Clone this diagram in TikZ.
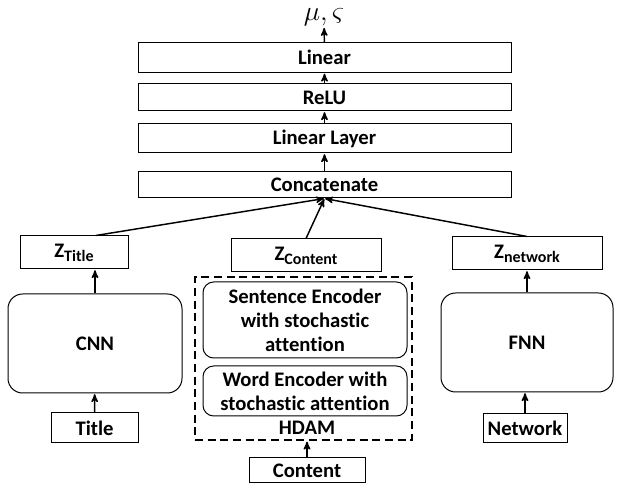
\documentclass[tikz,border=0pt]{standalone}
\usepackage{fontspec}
\setmainfont{Carlito}[Ligatures={NoCommon}]
\usetikzlibrary{arrows, shapes, positioning}
\newcommand{\zsub}[1]{Z\raisebox{-0.4ex}{\fontsize{12}{13}\selectfont #1}}

\begin{document}
\begin{tikzpicture}[x=0.75pt, y=-0.75pt, >=stealth']
 \tikzstyle{box} = [draw, line width=0.75pt, inner sep=0pt, font=\bfseries\fontsize{15.5}{18}\selectfont]
 \tikzstyle{layer} = [box, minimum width=373*0.75pt]
 \tikzstyle{block} = [box, rounded corners=11pt, align=center]
 \tikzstyle{link} = [->, line width=1.1pt, shorten >=0.5pt]
 \useasboundingbox (0,0) rectangle (622,488);

   % output stack
   \node[inner sep=1pt] (out) at (324,17) {\fontsize{20}{21}\selectfont$\mu,\varsigma$};
   \node[layer, minimum height=30*0.75pt] (lin) at (324.5,57.5) {Linear};
   \node[layer, minimum height=27*0.75pt] (relu) at (324.5,97.5) {ReLU};
   \node[layer, minimum height=29*0.75pt] (linlayer) at (324.5,138.5) {Linear Layer};
   \node[layer, minimum height=26*0.75pt] (concat) at (324.5,185) {Concatenate};

   % latent codes
   \node[box, minimum width=108*0.75pt, minimum height=33*0.75pt] (ztitle) at (74,252.5) {\zsub{Title}};
   \node[box, minimum width=150*0.75pt, minimum height=33*0.75pt] (zcontent) at (306,255.5) {\zsub{Content}};
   \node[box, minimum width=150*0.75pt, minimum height=33*0.75pt] (znet) at (527,253.5) {\zsub{network}};

   % encoders
   \node[block, minimum width=174*0.75pt, minimum height=99*0.75pt] (cnn) at (95,343.5) {CNN};
   \node[block, minimum width=172*0.75pt, minimum height=99*0.75pt] (fnn) at (527,342.5) {FNN};
   \node[box, dash pattern=on 6pt off 3.5pt, line width=1.5pt, minimum width=217*0.75pt, minimum height=163*0.75pt] (hdam) at (303.5,358.5) {};
   \node[block, rounded corners=8pt, minimum width=204*0.75pt, minimum height=76*0.75pt] (sent) at (305,320) {Sentence Encoder\\with stochastic\\attention};
   \node[block, rounded corners=8pt, minimum width=204*0.75pt, minimum height=50*0.75pt] (word) at (305,391) {Word Encoder with\\stochastic attention};
   \node[font=\bfseries\fontsize{15.5}{18}\selectfont] (hdamlabel) at (307,428) {HDAM};

   % inputs
   \node[box, minimum width=87*0.75pt, minimum height=30*0.75pt] (title) at (94.5,428) {Title};
   \node[box, minimum width=116*0.75pt, minimum height=25*0.75pt] (content) at (307,470.5) {Content};
   \node[box, minimum width=84*0.75pt, minimum height=29*0.75pt] (network) at (525,428.5) {Network};

 \path[link]
	(lin) edge (out)
	(relu) edge (lin)
	(linlayer) edge (relu)
	(concat) edge (linlayer)
	(ztitle.38) edge (concat.south)
	(zcontent.north) edge (concat.south)
	(znet.north) edge (concat.south)
	(cnn.north) edge (cnn.north |- ztitle.south)
	(fnn.north) edge (znet.south)
	(title) edge (cnn)
	(network.north) edge (network.north |- fnn.south)
	(content.north) edge (content.north |- hdam.south);
\end{tikzpicture}
\end{document}
